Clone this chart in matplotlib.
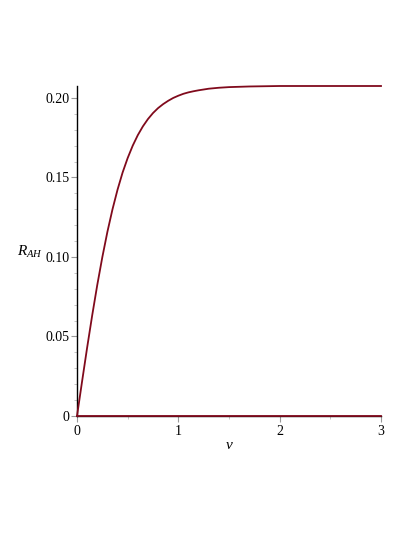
import matplotlib
matplotlib.use("Agg")
import matplotlib.pyplot as plt
from matplotlib.ticker import MultipleLocator, FixedLocator

# Data
v_vals = [0.0, 0.05, 0.1, 0.15, 0.2, 0.25, 0.3, 0.35, 0.4, 0.45, 0.5, 0.55, 0.6,
          0.65, 0.7, 0.75, 0.8, 0.85, 0.9, 0.95, 1.0, 1.05, 1.1, 1.15, 1.2, 1.25,
          1.3, 1.35, 1.4, 1.45, 1.5, 1.6, 1.7, 1.8, 1.9, 2.0, 2.2, 2.4, 2.6, 2.8, 3.0]
r_vals = [0.0, 0.0217, 0.0430, 0.0633, 0.0824, 0.0999, 0.1158, 0.1299, 0.1423,
          0.1531, 0.1622, 0.1700, 0.1766, 0.1821, 0.1867, 0.1905, 0.1936, 0.1961,
          0.1982, 0.2000, 0.2014, 0.2026, 0.2035, 0.2042, 0.2048, 0.2053, 0.2058,
          0.2061, 0.2064, 0.2066, 0.2068, 0.2070, 0.2072, 0.2073, 0.2074, 0.2075,
          0.2075, 0.2075, 0.2075, 0.2075, 0.2075]
zero_vals = [0.0 for _ in v_vals]
x_ticks = [0, 1, 2, 3]
x_labels = ["0", "1", "2", "3"]
y_ticks = [0, 0.05, 0.10, 0.15, 0.20]
y_labels = ["0", "0.05", "0.10", "0.15", "0.20"]

plt.rcParams['font.family'] = ['Liberation Serif', 'DejaVu Serif']
plt.rcParams['mathtext.fontset'] = 'custom'
plt.rcParams['mathtext.it'] = 'Liberation Serif:italic'
plt.rcParams['mathtext.rm'] = 'Liberation Serif'
color = '#800A1C'

fig = plt.figure(figsize=(4.15, 5.37), dpi=100)
ax = fig.add_axes([77/415, 121/537, 304/415, 330/537])

ax.plot(v_vals, r_vals, color=color, lw=1.3, clip_on=False, zorder=3,
        solid_joinstyle='round')
ax.plot(v_vals, zero_vals, color=color, lw=1.3, clip_on=False, zorder=3)

ax.set_xlim(0, 3)
ax.set_ylim(0, 0.2075)

for s in ['top', 'right']:
    ax.spines[s].set_visible(False)
for s in ['left', 'bottom']:
    ax.spines[s].set_color('black')
    ax.spines[s].set_linewidth(1.0)

ax.xaxis.set_major_locator(FixedLocator(x_ticks))
ax.set_xticklabels(x_labels)
ax.yaxis.set_major_locator(FixedLocator(y_ticks))
ax.set_yticklabels(y_labels)
ax.xaxis.set_minor_locator(MultipleLocator(0.5))
ax.yaxis.set_minor_locator(MultipleLocator(0.01))

ax.tick_params(which='major', length=4, width=0.8, color='#999999', labelsize=10,
               labelcolor='black', pad=2.5)
ax.tick_params(axis='y', which='major', pad=1.5)
ax.tick_params(which='minor', length=2.5, width=0.6, color='#bbbbbb')

ax.set_xlabel('$v$', fontsize=11, labelpad=1)
ax.set_ylabel('$R_{AH}$', fontsize=11, rotation=0, va='center', ha='center')
ax.yaxis.set_label_coords(-0.155, 0.497)

fig.savefig('out.png', dpi=100)
